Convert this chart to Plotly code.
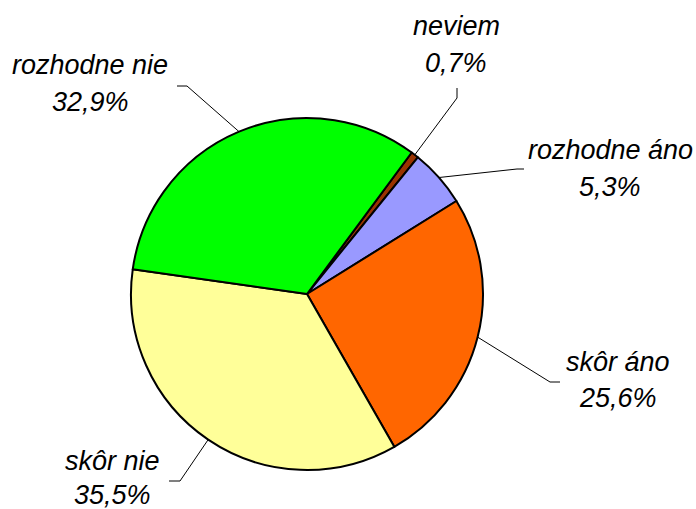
import math
import plotly.graph_objects as go

# ---- data ----
categories = ["neviem", "rozhodne áno", "skôr áno", "skôr nie", "rozhodne nie"]
percent_values = [0.7, 5.3, 25.6, 35.5, 32.9]
slice_colors = ["#993300", "#9999FF", "#FF6600", "#FFFF99", "#00FF00"]

# ---- layout constants (pixels) ----
W, H = 696, 509
CX, CY, R = 307, 294, 176
ROTATION = 36.5  # degrees clockwise from 12 o'clock where first slice begins

# label placement (pixels): text center x, line-1 y, line-2 y, elbow point, end point
label_x = [456, 610, 618, 112, 90]
label_y1 = [26, 150, 362, 461, 65]
label_y2 = [63, 187, 398, 495, 102]
elbow_pts = [(457, 98), (517, 169), (550, 382), (180, 481), (187, 86)]
end_pts = [(457, 88), (524, 169), (560, 382), (169, 481), (177, 86)]


def px(x):
    return x / W


def py(y):
    return 1 - y / H


fig = go.Figure(go.Pie(
    labels=categories,
    values=percent_values,
    sort=False,
    direction="clockwise",
    rotation=ROTATION,
    marker=dict(colors=slice_colors, line=dict(color="#000000", width=2)),
    textinfo="none",
    hoverinfo="label+percent",
    domain=dict(x=[px(CX - R), px(CX + R)], y=[py(CY + R), py(CY - R)]),
))

font = dict(family="Liberation Sans, Arial, sans-serif", size=27, color="#000000")
annotations = []
shapes = []
total = sum(percent_values)
start = ROTATION
for i, (cat, v) in enumerate(zip(categories, percent_values)):
    span = v / total * 360
    mid = math.radians(start + span / 2)
    start += span
    ex = CX + R * math.sin(mid)
    ey = CY - R * math.cos(mid)
    (bx, by), (tx, ty) = elbow_pts[i], end_pts[i]
    shapes.append(dict(
        type="path", xref="paper", yref="paper",
        path=f"M {px(ex)},{py(ey)} L {px(bx)},{py(by)} L {px(tx)},{py(ty)}",
        line=dict(color="#000000", width=1),
    ))
    pct = f"{v:.1f}%".replace(".", ",")
    for text, yy in ((cat, label_y1[i]), (pct, label_y2[i])):
        annotations.append(dict(
            x=px(label_x[i]), y=py(yy), xref="paper", yref="paper",
            text=f"<i>{text}</i>", showarrow=False,
            xanchor="center", yanchor="middle", font=font,
        ))

fig.update_layout(
    width=W, height=H,
    margin=dict(l=0, r=0, t=0, b=0),
    showlegend=False,
    paper_bgcolor="#FFFFFF",
    plot_bgcolor="#FFFFFF",
    annotations=annotations,
    shapes=shapes,
)

fig.write_html(
    "out.html",
    config={"displayModeBar": False},
    post_script="document.body.style.margin='0px';document.body.style.overflow='hidden';",
)
